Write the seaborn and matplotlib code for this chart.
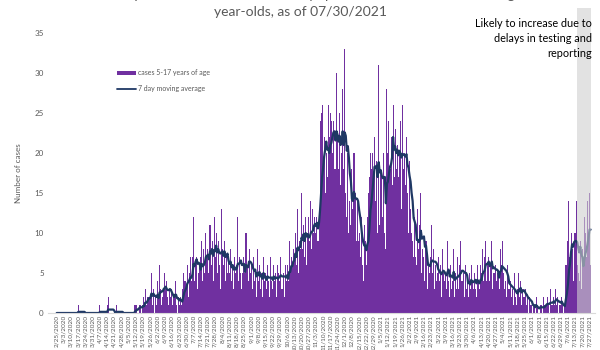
import numpy as np
import pandas as pd
import matplotlib
matplotlib.use("Agg")
import matplotlib.pyplot as plt
from matplotlib.patches import Rectangle, Patch
from matplotlib.lines import Line2D
import seaborn as sns

# ---- data (daily cases, 5-17 year olds, from 2/25/2020) ----
start_date = "2020-02-25"
weekly_rows = [
    [0, 0, 0, 0, 0, 0, 0],
    [0, 0, 0, 0, 0, 0, 0],
    [0, 0, 0, 0, 0, 0, 0],
    [1, 0, 0, 0, 0, 0, 0],
    [0, 0, 0, 0, 0, 0, 0],
    [0, 0, 0, 0, 0, 0, 0],
    [1, 0, 0, 0, 0, 0, 0],
    [1, 2, 0, 0, 0, 0, 0],
    [0, 0, 1, 0, 0, 0, 0],
    [0, 0, 0, 0, 0, 0, 0],
    [0, 0, 0, 0, 0, 0, 1],
    [1, 1, 0, 1, 1, 0, 1],
    [2, 1, 3, 1, 2, 2, 2],
    [2, 5, 1, 3, 0, 2, 1],
    [4, 2, 6, 3, 1, 2, 3],
    [5, 3, 4, 2, 1, 3, 2],
    [3, 1, 2, 4, 1, 0, 2],
    [1, 2, 1, 3, 5, 4, 4],
    [3, 6, 2, 5, 7, 4, 7],
    [12, 4, 6, 7, 3, 5, 6],
    [7, 9, 4, 8, 5, 10, 7],
    [8, 5, 11, 6, 9, 4, 12],
    [7, 10, 5, 9, 6, 3, 13],
    [8, 6, 9, 4, 7, 5, 7],
    [5, 8, 4, 6, 3, 7, 5],
    [6, 12, 4, 7, 5, 3, 5],
    [7, 5, 10, 6, 4, 8, 5],
    [6, 3, 7, 4, 5, 2, 8],
    [4, 6, 3, 5, 2, 7, 4],
    [5, 3, 6, 4, 2, 7, 4],
    [3, 6, 4, 5, 2, 6, 5],
    [4, 7, 3, 5, 2, 6, 4],
    [6, 4, 9, 5, 7, 6, 8],
    [7, 10, 6, 13, 5, 9, 8],
    [15, 8, 11, 7, 12, 6, 10],
    [12, 9, 14, 8, 13, 10, 12],
    [10, 12, 9, 13, 24, 25, 26],
    [18, 22, 15, 20, 17, 26, 22],
    [25, 24, 20, 24, 18, 18, 30],
    [22, 18, 25, 16, 20, 28, 18],
    [33, 15, 12, 20, 10, 14, 11],
    [18, 13, 20, 15, 9, 14, 9],
    [10, 7, 12, 6, 4, 11, 9],
    [6, 12, 15, 17, 20, 18, 20],
    [16, 22, 14, 19, 10, 31, 11],
    [18, 17, 12, 20, 10, 8, 28],
    [20, 24, 18, 22, 16, 26, 17],
    [23, 18, 21, 17, 20, 24, 13],
    [26, 18, 20, 16, 22, 15, 10],
    [19, 13, 10, 9, 7, 12, 7],
    [6, 13, 8, 11, 15, 5, 8],
    [7, 4, 9, 3, 6, 5, 7],
    [11, 5, 8, 3, 6, 4, 5],
    [7, 4, 6, 2, 8, 5, 4],
    [5, 3, 9, 4, 2, 6, 3],
    [4, 8, 2, 5, 3, 7, 3],
    [6, 9, 4, 5, 2, 6, 3],
    [4, 2, 5, 3, 6, 4, 3],
    [5, 3, 2, 6, 4, 3, 6],
    [5, 8, 4, 7, 9, 4, 6],
    [7, 4, 6, 9, 3, 5, 5],
    [6, 4, 5, 3, 8, 6, 9],
    [5, 3, 4, 2, 6, 3, 3],
    [4, 2, 3, 1, 5, 2, 1],
    [3, 5, 2, 4, 1, 3, 2],
    [2, 3, 1, 2, 0, 2, 1],
    [1, 0, 1, 0, 2, 1, 0],
    [0, 1, 1, 0, 2, 1, 1],
    [1, 2, 1, 0, 3, 1, 1],
    [2, 1, 3, 1, 2, 0, 1],
    [1, 2, 1, 0, 1, 6, 6],
    [9, 14, 7, 10, 8, 4, 10],
    [10, 14, 6, 5, 4, 9, 3],
    [8, 6, 12, 10, 7, 14, 9],
    [15, 6],
]
cases = [v for row in weekly_rows for v in row]
title_line1 = "Number of reported cases of COVID-19 by specimen collection date among 5-17"
title_line2 = "year-olds, as of 07/30/2021"
note_text = "Likely to increase due to\ndelays in testing and\nreporting"
bar_label = "cases 5-17 years of age"
line_label = "7 day moving average"
y_label = "Number of cases"
delay_days = 14

# ---- frame ----
dates = pd.date_range(start_date, periods=len(cases), freq="D")
df = pd.DataFrame({"day": np.arange(len(cases)), "cases": cases})
df["ma"] = df["cases"].rolling(7, min_periods=1).mean()

sns.set_theme(style="white")
plt.rcParams["font.family"] = ["Lato", "DejaVu Sans"]

fig = plt.figure(figsize=(6, 3.5), dpi=100)
ax = fig.add_axes([0.08, 0.1057, 0.912, 0.80])

bar_color = "#7030A0"
line_color = "#1F3864"
gray_text = "#595959"

sns.barplot(data=df, x="day", y="cases", native_scale=True, color=bar_color,
            saturation=1, width=1.0, linewidth=0, errorbar=None, ax=ax)
sns.lineplot(data=df, x="day", y="ma", color=line_color, linewidth=1.6, ax=ax)

n = len(cases)
ax.set_xlim(-8.5, n + 3.5)
ax.set_ylim(0, 35)

# delay shading (over bars, extends above plot)
band = Rectangle((n - delay_days - 0.5, 0), delay_days, 38.1, facecolor="#D0D0D0",
                 alpha=0.6, edgecolor="none", clip_on=False, zorder=5)
ax.add_patch(band)

# ticks
tick_days = np.arange(0, n, 7)
ax.set_xticks(tick_days)
ax.set_xticklabels([f"{d.month}/{d.day}/{d.year}" for d in dates[tick_days]],
                   rotation=90, fontsize=4.6, color=gray_text)
ax.set_yticks(np.arange(0, 36, 5))
ax.set_yticklabels([str(v) for v in range(0, 36, 5)], fontsize=5.8, color=gray_text)
ax.tick_params(axis="x", length=0, pad=1.5)
ax.tick_params(axis="y", length=0, pad=3)
ax.set_xlabel("")
ax.set_ylabel(y_label, fontsize=5.8, color=gray_text, labelpad=9)

for s in ["top", "right", "left"]:
    ax.spines[s].set_visible(False)
ax.spines["bottom"].set_color("#D9D9D9")
ax.spines["bottom"].set_linewidth(0.8)

# titles (first line runs off the top edge, as in the reference)
fig.text(0.5, 1.0 + 1.0 / 350, title_line1, ha="center", va="baseline",
         fontsize=10, color=gray_text)
fig.text(0.5, 0.966, title_line2, ha="center", va="center", fontsize=10, color=gray_text)

# annotation
fig.text(0.987, 0.948, note_text, ha="right", va="top", fontsize=7.8,
         color="#000000", linespacing=1.45)

# legend
handles = [Patch(facecolor=bar_color, edgecolor="none", label=bar_label),
           Line2D([0], [0], color=line_color, linewidth=1.3, label=line_label)]
leg = ax.legend(handles=handles, loc="upper left", bbox_to_anchor=(0.19, 0.812),
                bbox_transform=fig.transFigure, frameon=False, fontsize=5,
                handlelength=2.6, handleheight=0.6, labelspacing=1.3,
                handletextpad=0.3, borderpad=0)
for t in leg.get_texts():
    t.set_color(gray_text)

fig.savefig("out.png", dpi=100)
